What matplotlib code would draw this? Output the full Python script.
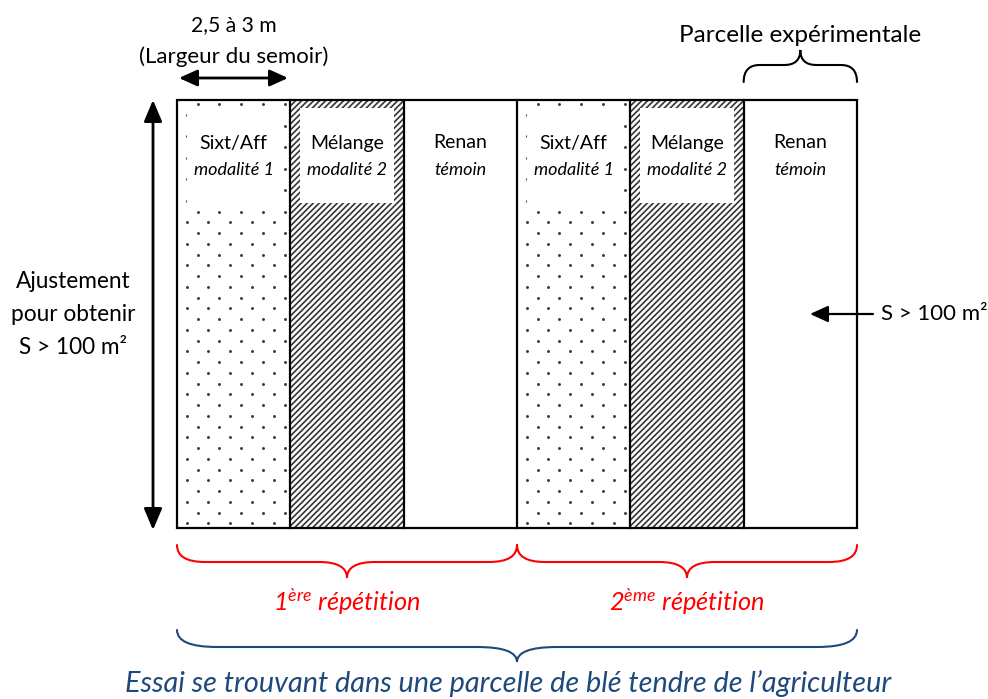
import numpy as np
import matplotlib
matplotlib.use("Agg")
import matplotlib.pyplot as plt
from matplotlib.patches import Rectangle, PathPatch
from matplotlib.path import Path
from matplotlib.collections import LineCollection

plt.rcParams['font.family'] = ['Lato', 'DejaVu Sans']
plt.rcParams['mathtext.fontset'] = 'custom'
plt.rcParams['mathtext.it'] = 'Lato:italic'
plt.rcParams['mathtext.rm'] = 'Lato:italic'

# ---- data ----
strip_names = ["Sixt/Aff", "Mélange", "Renan", "Sixt/Aff", "Mélange", "Renan"]
strip_roles = ["modalité 1", "modalité 2", "témoin", "modalité 1", "modalité 2", "témoin"]
strip_fill = ["dots", "hatch", "none", "dots", "hatch", "none"]
rep_labels = [("1", "ère"), ("2", "ème")]
width_label = ["2,5 à 3 m", "(Largeur du semoir)"]
left_label = ["Ajustement", "pour obtenir", "S > 100 m²"]
right_label = "S > 100 m²"
plot_label = "Parcelle expérimentale"
trial_label = "Essai se trouvant dans une parcelle de blé tendre de l’agriculteur"

W, H = 988, 699
fig = plt.figure(figsize=(W / 100, H / 100), dpi=100)
ax = fig.add_axes([0, 0, 1, 1])
ax.set_xlim(0, W)
ax.set_ylim(H, 0)
ax.axis('off')

X0, X1, Y0, Y1 = 177, 857, 100, 528
n = len(strip_names)
sw = (X1 - X0) / n
red = '#FF0000'
blue = '#1F497D'

for i in range(n):
    xl = X0 + i * sw
    rect = Rectangle((xl, Y0), sw, Y1 - Y0, facecolor='white', edgecolor='none', zorder=1)
    ax.add_patch(rect)
    if strip_fill[i] == 'dots':
        pts = []
        dy = 10.75
        for k in range(40):
            y = 104 + k * dy
            if y > Y1 - 2:
                break
            off = 20.7 if k % 2 == 0 else 9.7
            xs = np.arange(xl + off, xl + sw - 1, 21.7)
            for x in xs:
                pts.append((x, y))
        pts = np.array(pts)
        ax.scatter(pts[:, 0], pts[:, 1], s=4.5, color='#3a3a3a', linewidths=0, zorder=2)
    elif strip_fill[i] == 'hatch':
        hh = Y1 - Y0
        segs = []
        for x in np.arange(xl - hh, xl + sw + 6, 6.0):
            segs.append([(x, Y1), (x + hh, Y0)])
        lc = LineCollection(segs, colors='#3a3a3a', linewidths=1.25, zorder=2)
        ax.add_collection(lc)
        lc.set_clip_path(rect)
    # label box
    if strip_fill[i] != 'none':
        ax.add_patch(Rectangle((xl + 10, 108), sw - 20, 95, facecolor='white',
                               edgecolor='none', zorder=3))
    cx = xl + sw / 2
    ax.text(cx, 143, strip_names[i], ha='center', va='center', fontsize=14, zorder=4)
    ax.text(cx, 170, strip_roles[i], ha='center', va='center', fontsize=13,
            style='italic', zorder=4)
    if i > 0:
        ax.plot([xl, xl], [Y0, Y1], color='black', lw=1.6, zorder=5)

ax.add_patch(Rectangle((X0, Y0), X1 - X0, Y1 - Y0, facecolor='none',
                       edgecolor='black', lw=1.6, zorder=5))


def brace(xa, xb, yend, yflat, ytip, color, lw=1.5, r=28):
    xc = (xa + xb) / 2
    verts = [(xa, yend), (xa, yflat), (xa + r, yflat),
             (xc - r, yflat),
             (xc, yflat), (xc, ytip),
             (xc, yflat), (xc + r, yflat),
             (xb - r, yflat),
             (xb, yflat), (xb, yend)]
    codes = [Path.MOVETO, Path.CURVE3, Path.CURVE3,
             Path.LINETO,
             Path.CURVE3, Path.CURVE3,
             Path.CURVE3, Path.CURVE3,
             Path.LINETO,
             Path.CURVE3, Path.CURVE3]
    ax.add_patch(PathPatch(Path(verts, codes), facecolor='none', edgecolor=color,
                           lw=lw, capstyle='round', zorder=6))


# top brace over the last strip
brace(X1 - sw, X1, 82, 65, 50, 'black', r=16)
ax.text((X1 - sw + X1) / 2, 35, plot_label, ha='center', va='center', fontsize=17.5)

# width arrow
ax.annotate('', xy=(179, 78), xytext=(288, 78),
            arrowprops=dict(arrowstyle='<|-|>,head_length=1.1,head_width=0.5',
                            color='black', lw=2, mutation_scale=10, shrinkA=0, shrinkB=0))
ax.text(234, 25, width_label[0], ha='center', va='center', fontsize=15.2)
ax.text(234, 57, width_label[1], ha='center', va='center', fontsize=16)

# vertical arrow
ax.annotate('', xy=(153, Y0), xytext=(153, Y1 + 2),
            arrowprops=dict(arrowstyle='<|-|>,head_length=1.3,head_width=0.55',
                            color='black', lw=2, mutation_scale=10, shrinkA=0, shrinkB=0))
for j, t in enumerate(left_label):
    ax.text(73, 282 + 32.5 * j, t, ha='center', va='center', fontsize=16.3)

# right arrow
ax.annotate('', xy=(810, 314), xytext=(873, 314),
            arrowprops=dict(arrowstyle='-|>,head_length=1.1,head_width=0.5',
                            color='black', lw=1.6, mutation_scale=10, shrinkA=0, shrinkB=0))
ax.text(881, 314, right_label, ha='left', va='center', fontsize=16)

# repetition braces
half = (X1 - X0) / 2
for k, (num, sup) in enumerate(rep_labels):
    xa = X0 + k * half
    xb = xa + half
    brace(xa, xb, 545, 562, 578, red, lw=1.5, r=28)
    ax.text((xa + xb) / 2, 602, r'$\mathit{' + num + r'}^{\mathit{' + sup + r'}}$ répétition',
            ha='center', va='center', fontsize=18.3, style='italic', color=red)

# whole trial brace
brace(X0, X1, 630, 647, 662, blue, lw=1.5, r=40)
ax.text(508, 684, trial_label, ha='center', va='center', fontsize=20.8,
        style='italic', color=blue)

fig.savefig('out.png', dpi=100)
